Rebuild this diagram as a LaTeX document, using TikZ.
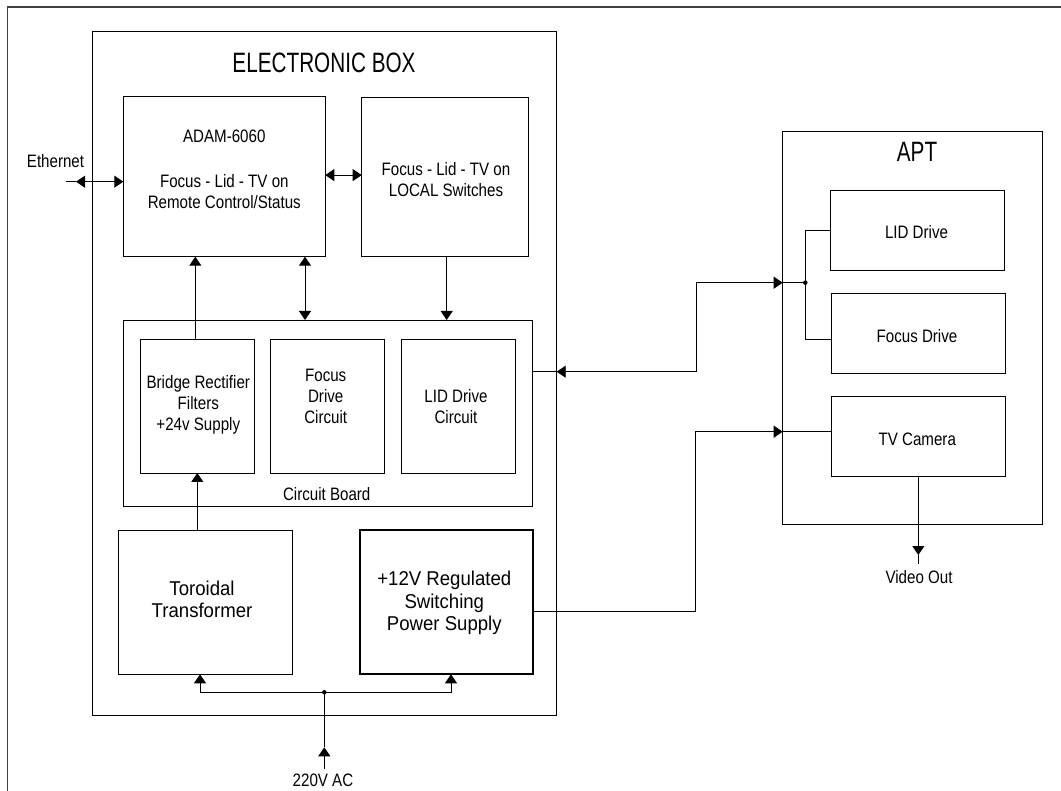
\documentclass[tikz,border=0pt]{standalone}
\usepackage{fontspec}
\setmainfont{Liberation Sans}
\newfontfamily\smallf[FakeStretch=0.84]{Liberation Sans}
\newfontfamily\titlef[FakeStretch=0.74]{Liberation Sans}
\newfontfamily\bigf[FakeStretch=0.93]{Liberation Sans}
\usetikzlibrary{arrows.meta,calc}
\tikzset{
  box/.style={draw, line width=0.9pt, inner sep=0pt, outer sep=0pt},
  lbl/.style={font=\smallf\fontsize{18}{21}\selectfont, align=center, inner sep=0pt},
  biglbl/.style={font=\bigf\fontsize{20}{22.4}\selectfont, align=center, inner sep=0pt},
  ttl/.style={font=\titlef\fontsize{28}{30}\selectfont, inner sep=0pt},
  wire/.style={line width=0.9pt},
  arr/.style={wire, -{Triangle[length=9pt,width=12pt]}},
  dbl/.style={wire, {Triangle[length=9pt,width=12pt]}-{Triangle[length=9pt,width=12pt]}},
  frameline/.style={line width=1.6pt, draw=black!75},
  jdot/.style={fill, circle, inner sep=0pt, minimum size=4.5pt},
}
\begin{document}
\begin{tikzpicture}[x=1pt,y=-1pt]
\useasboundingbox (0,0) rectangle (1061,791);
% outer frame (clipped by page edges)
\draw[frameline] (7.3,795) -- (7.3,7.3) -- (1065,7.3);

% Electronic box
\node[box, minimum width=464pt, minimum height=684.7pt] (ebox) at (324.7,373.35) {};
\node[ttl] (eboxT) at (324,62.7) {ELECTRONIC BOX};

\node[box, minimum width=202pt, minimum height=160.2pt] (adam) at (224.3,176.6) {};
\node[lbl] (adamT) at (224.3,168.9) {ADAM-6060\\[24pt]Focus - Lid - TV on\\Remote Control/Status};

\node[box, minimum width=166.6pt, minimum height=159.7pt] (local) at (445,176.85) {};
\node[lbl] (localT) at (446,179.2) {Focus - Lid - TV on\\LOCAL Switches};

\node[box, minimum width=409pt, minimum height=186.7pt] (board) at (327.8,413.35) {};
\node[lbl] (boardT) at (326.7,494.3) {Circuit Board};

\node[box, minimum width=114pt, minimum height=133.3pt] (bridge) at (197.3,406.35) {};
\node[lbl] (bridgeT) at (198.3,404.7) {Bridge Rectifier\\Filters\\+24v Supply};

\node[box, minimum width=114pt, minimum height=133.3pt] (fdc) at (327.7,406.35) {};
\node[lbl] (fdcT) at (325.7,396.5) {Focus\\Drive\\Circuit};

\node[box, minimum width=114.4pt, minimum height=133.3pt] (ldc) at (458.5,406.35) {};
\node[lbl] (ldcT) at (456,406.3) {LID Drive\\Circuit};

\node[box, minimum width=173.6pt, minimum height=143.6pt] (toroid) at (205.5,602.5) {};
\node[biglbl] (toroidT) at (202,599.5) {Toroidal\\Transformer};

\node[box, line width=1.8pt, minimum width=173.6pt, minimum height=144.3pt] (psu) at (446.5,602.15) {};
\node[biglbl] (psuT) at (444.3,603) {+12V Regulated\\Switching\\Power Supply};

% APT
\node[box, minimum width=259.3pt, minimum height=392.3pt] (apt) at (912.35,327.85) {};
\node[ttl] (aptT) at (917,152.3) {APT};
\node[box, minimum width=173.3pt, minimum height=79.6pt] (lid) at (917.35,230.5) {};
\node[lbl] (lidT) at (916.5,232.3) {LID Drive};
\node[box, minimum width=173.3pt, minimum height=79.3pt] (fdr) at (918.35,333.35) {};
\node[lbl] (fdrT) at (917,335.7) {Focus Drive};
\node[box, minimum width=173.3pt, minimum height=80pt] (tv) at (918.35,436) {};
\node[lbl] (tvT) at (917.3,439) {TV Camera};

% external labels
\node[lbl] (eth) at (55.5,161.5) {Ethernet};
\node[lbl] (ac) at (323,780) {220V AC};
\node[lbl] (vid) at (919,576.7) {Video Out};

% Ethernet connector
\coordinate (ethend) at (66,181.7);
\coordinate (ethtip) at (76,181.7);
\draw[wire] (ethend) -- (ethtip);
\draw[dbl] (ethtip) -- (ethtip -| adam.west);

% ADAM <-> LOCAL
\draw[dbl] ([yshift=1.5pt]adam.east) -- ([yshift=1.5pt]adam.east -| local.west);

% Bridge -> ADAM
\draw[arr] ([xshift=-2pt]bridge.north) -- ([xshift=-2pt]bridge.north |- adam.south);
% ADAM <-> board
\draw[dbl] ([xshift=80.7pt]adam.south) -- ([xshift=80.7pt]adam.south |- board.north);
% LOCAL -> board
\draw[arr] ([xshift=1.7pt]local.south) -- ([xshift=1.7pt]local.south |- board.north);
% Toroid -> Bridge
\draw[arr] (bridge.south |- toroid.north) -- (bridge.south);

% 220V AC distribution
\coordinate (jn) at (324.3,692.3);
\coordinate (actip) at (324.3,747.3);
\coordinate (acend) at (324.3,769);
\draw[arr] (acend) -- (actip);
\draw[wire] (actip) -- (jn);
\draw[arr] (jn) -| ([xshift=-5.5pt]toroid.south);
\draw[arr] (jn) -| ([xshift=4.5pt]psu.south);
\node[jdot] (jdot1) at (jn) {};

% Circuit board <-> APT drives
\coordinate (cb1) at ([yshift=41.65pt]board.east);
\coordinate (ebr1) at (ebox.east |- cb1);
\coordinate (bxa) at (696,0);
\coordinate (jn2) at (805.3,282.7);
\coordinate (aptl1) at (apt.west |- jn2);
\draw[wire] (cb1) -- (ebr1);
\draw[dbl] (ebr1) -- (ebr1 -| bxa) |- (aptl1);
\draw[wire] (aptl1) -- (jn2);
\draw[wire] (jn2) |- (lid.west);
\draw[wire] (jn2) |- ([yshift=-6pt]fdr.west);
\node[jdot] (jdot2) at (jn2) {};

% PSU -> TV camera
\coordinate (psuo) at ([yshift=-9.5pt]psu.east);
\coordinate (tvi) at ([yshift=4.3pt]tv.west);
\coordinate (aptl2) at (apt.west |- tvi);
\coordinate (bxb) at (695,0);
\draw[arr] (psuo) -| (bxb |- aptl2) -- (aptl2);
\draw[wire] (aptl2) -- (tvi);

% TV -> Video Out
\coordinate (vtip) at ([yshift=-79pt]tv.south);
\coordinate (vend) at ([yshift=-88pt]tv.south);
\draw[arr] (tv.south) -- (vtip);
\draw[wire] (vtip) -- (vend);
\end{tikzpicture}
\end{document}
